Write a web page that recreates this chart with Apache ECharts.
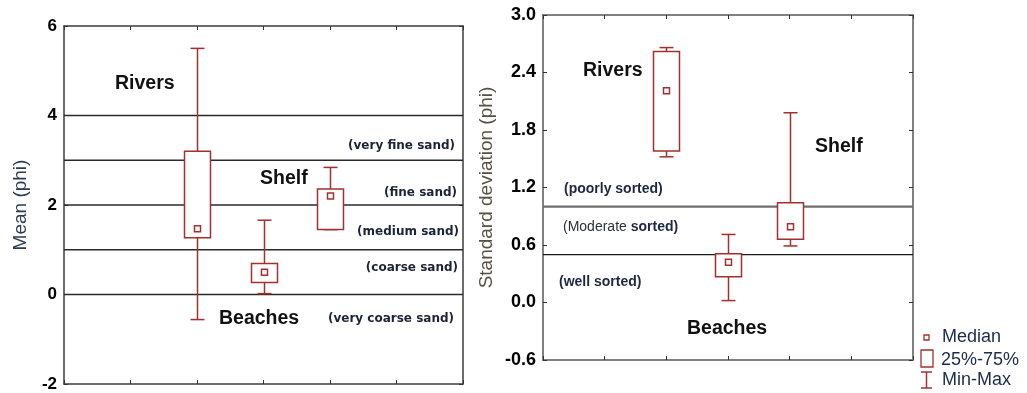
<!DOCTYPE html>
<html>
<head>
<meta charset="utf-8">
<script src="https://cdn.jsdelivr.net/npm/echarts@6/dist/echarts.min.js"></script>
<style>
  html, body { margin: 0; padding: 0; background: #fff; }
  #chart { width: 1027px; height: 393px; }
</style>
</head>
<body>
<div id="chart"></div>
<script>
// Sediment groups, left to right
const groups = ['Rivers', 'Beaches', 'Shelf'];

// Mean grain size (phi): min, 25%, median, 75%, max
const meanMin    = [-0.56, 0.02, 1.45];
const meanQ1     = [1.27, 0.27, 1.45];
const meanMedian = [1.47, 0.50, 2.20];
const meanQ3     = [3.20, 0.69, 2.36];
const meanMax    = [5.50, 1.66, 2.84];

// Sorting, standard deviation (phi): min, 25%, median, 75%, max
const sdMin    = [1.52, 0.02, 0.59];
const sdQ1     = [1.58, 0.27, 0.66];
const sdMedian = [2.21, 0.42, 0.79];
const sdQ3     = [2.62, 0.51, 1.04];
const sdMax    = [2.66, 0.71, 1.98];

// Class boundaries drawn as horizontal rules
const meanClassBounds = [0, 1, 2, 3, 4];
const sdClassBounds = [0.5, 1.0];

// Tick values on the vertical axes
const meanTicks = [-2, 0, 2, 4, 6];
const sdTicks = [-0.6, 0.0, 0.6, 1.2, 1.8, 2.4, 3.0];

const BOX_COLOR = '#a2302e';
const FIRST_SLOT = 2; // groups sit on ticks 2, 3, 4 of a 0..6 axis

function boxData(mins, q1, med, q3, maxs) {
  return groups.map((g, i) => [i + FIRST_SLOT, mins[i], q1[i], med[i], q3[i], maxs[i]]);
}

function renderBox(params, api) {
  const x = api.value(0);
  const pMin = api.coord([x, api.value(1)]);
  const pQ1 = api.coord([x, api.value(2)]);
  const pMed = api.coord([x, api.value(3)]);
  const pQ3 = api.coord([x, api.value(4)]);
  const pMax = api.coord([x, api.value(5)]);
  const halfBox = 13, halfCap = 7, halfMed = 3;
  const line = { stroke: BOX_COLOR, lineWidth: 1.5 };
  const cx = Math.round(pMed[0]) + 0.5;
  return {
    type: 'group',
    children: [
      { type: 'line', shape: { x1: cx, y1: pQ3[1], x2: cx, y2: pMax[1] }, style: line },
      { type: 'line', shape: { x1: cx, y1: pQ1[1], x2: cx, y2: pMin[1] }, style: line },
      { type: 'line', shape: { x1: cx - halfCap, y1: pMax[1], x2: cx + halfCap, y2: pMax[1] }, style: line },
      { type: 'line', shape: { x1: cx - halfCap, y1: pMin[1], x2: cx + halfCap, y2: pMin[1] }, style: line },
      { type: 'rect', shape: { x: cx - halfBox, y: pQ3[1], width: halfBox * 2, height: pQ1[1] - pQ3[1] },
        style: { fill: '#fff', stroke: BOX_COLOR, lineWidth: 1.5 } },
      { type: 'rect', shape: { x: cx - halfMed, y: pMed[1] - halfMed, width: halfMed * 2, height: halfMed * 2 },
        style: { fill: '#fff', stroke: BOX_COLOR, lineWidth: 1.5 } }
    ]
  };
}

function renderRule(color, width) {
  return function (params, api) {
    const a = api.coord([0, api.value(0)]);
    const b = api.coord([6, api.value(0)]);
    return { type: 'line', shape: { x1: a[0], y1: a[1], x2: b[0], y2: b[1] },
             style: { stroke: color, lineWidth: width } };
  };
}

function xAxisPair(gridIndex, color, width) {
  const base = {
    gridIndex, type: 'value', min: 0, max: 6, interval: 1,
    axisLine: { show: true, onZero: false, lineStyle: { color, width } },
    axisTick: { show: true, inside: true, length: 4, lineStyle: { color: '#333', width: 1 } },
    axisLabel: { show: false }, splitLine: { show: false }
  };
  return [Object.assign({ position: 'bottom' }, base), Object.assign({ position: 'top' }, base)];
}

const LABEL_FONT = 'Liberation Sans, Arial, sans-serif';

const option = {
  animation: false,
  grid: [
    { left: 64, top: 26, width: 399, height: 358 },
    { left: 543, top: 15, width: 370, height: 345 }
  ],
  xAxis: [].concat(xAxisPair(0, '#3c3c3c', 1.5), xAxisPair(1, '#808080', 2)),
  yAxis: [
    {
      gridIndex: 0, type: 'value', min: meanTicks[0], max: meanTicks[meanTicks.length - 1], interval: 2,
      axisLine: { show: true, onZero: false, lineStyle: { color: '#3c3c3c', width: 1.5 } },
      axisTick: { show: true, inside: true, length: 4, lineStyle: { color: '#333' } },
      axisLabel: { color: '#000', fontWeight: 'bold', fontSize: 17, fontFamily: LABEL_FONT, margin: 7 },
      splitLine: { show: false },
      name: 'Mean (phi)', nameLocation: 'middle', nameGap: 34,
      nameTextStyle: { color: '#2d3a55', fontSize: 19, fontFamily: LABEL_FONT }
    },
    {
      gridIndex: 0, type: 'value', position: 'right', min: -2, max: 6, interval: 2,
      axisLine: { show: true, onZero: false, lineStyle: { color: '#3c3c3c', width: 1.5 } },
      axisTick: { show: true, inside: true, length: 4, lineStyle: { color: '#333' } },
      axisLabel: { show: false }, splitLine: { show: false }
    },
    {
      gridIndex: 1, type: 'value', min: sdTicks[0], max: sdTicks[sdTicks.length - 1], interval: 0.6,
      axisLine: { show: true, onZero: false, lineStyle: { color: '#808080', width: 2 } },
      axisTick: { show: true, inside: true, length: 4, lineStyle: { color: '#333' } },
      axisLabel: { color: '#000', fontWeight: 'bold', fontSize: 18, fontFamily: LABEL_FONT, margin: 7,
                   formatter: v => v.toFixed(1) },
      splitLine: { show: false },
      name: 'Standard deviation (phi)', nameLocation: 'middle', nameGap: 47,
      nameTextStyle: { color: '#555040', fontSize: 19, fontFamily: LABEL_FONT }
    },
    {
      gridIndex: 1, type: 'value', position: 'right', min: -0.6, max: 3.0, interval: 0.6,
      axisLine: { show: true, onZero: false, lineStyle: { color: '#808080', width: 2 } },
      axisTick: { show: true, inside: true, length: 4, lineStyle: { color: '#333' } },
      axisLabel: { show: false }, splitLine: { show: false }
    }
  ],
  series: [
    {
      type: 'custom', xAxisIndex: 0, yAxisIndex: 0, z: 1,
      renderItem: renderRule('#2a2a2a', 1.3),
      data: meanClassBounds.map(v => [v])
    },
    {
      type: 'custom', xAxisIndex: 2, yAxisIndex: 2, z: 1,
      renderItem: function (params, api) {
        const v = api.value(0);
        return renderRule(v >= 1 ? '#6e6e6e' : '#1a1a1a', v >= 1 ? 2.2 : 1.3)(params, api);
      },
      data: sdClassBounds.map(v => [v])
    },
    {
      type: 'custom', xAxisIndex: 0, yAxisIndex: 0, z: 3,
      renderItem: renderBox,
      encode: { x: 0, y: [1, 2, 3, 4, 5] },
      data: boxData(meanMin, meanQ1, meanMedian, meanQ3, meanMax)
    },
    {
      type: 'custom', xAxisIndex: 2, yAxisIndex: 2, z: 3,
      renderItem: renderBox,
      encode: { x: 0, y: [1, 2, 3, 4, 5] },
      data: boxData(sdMin, sdQ1, sdMedian, sdQ3, sdMax)
    }
  ],
  graphic: []
};

// Group names and size / sorting classes
function bigText(text, x, y) {
  return { type: 'text', x, y, z: 10,
    style: { text, fontSize: 19.5, fontWeight: 'bold', fontFamily: LABEL_FONT, fill: '#111',
             textVerticalAlign: 'middle' } };
}
function classText(text, x, y, align) {
  return { type: 'text', x, y, z: 10,
    style: { text, fontSize: 12, fontWeight: 'bold', fontFamily: 'DejaVu Sans, Verdana, sans-serif',
             fill: '#1b2336', textAlign: align || 'right', textVerticalAlign: 'middle' } };
}
function sortText(text, x, y) {
  return { type: 'text', x, y, z: 10,
    style: { text, fontSize: 14, fontWeight: 'bold', fontFamily: LABEL_FONT,
             fill: '#1e2740', textVerticalAlign: 'middle' } };
}

option.graphic.push(
  bigText('Rivers', 115, 84),
  bigText('Shelf', 260, 179),
  bigText('Beaches', 219, 319),
  classText('(very fine sand)', 455, 146),
  classText('(fine sand)', 457, 193),
  classText('(medium sand)', 459, 232),
  classText('(coarse sand)', 458, 268),
  classText('(very coarse sand)', 454, 319),

  bigText('Rivers', 583, 71),
  bigText('Shelf', 815, 147),
  bigText('Beaches', 687, 329),
  sortText('(poorly sorted)', 564, 189),
  {
    type: 'text', x: 563, y: 227, z: 10,
    style: {
      text: '{r|(Moderate }{b|sorted)}',
      textVerticalAlign: 'middle',
      rich: {
        r: { fontSize: 14, fontFamily: LABEL_FONT, fill: '#2a2f3c' },
        b: { fontSize: 14, fontWeight: 'bold', fontFamily: LABEL_FONT, fill: '#1e2740' }
      }
    }
  },
  sortText('(well sorted)', 559, 282)
);

// Key for the box-and-whisker symbols
const keyFont = { fontSize: 18, fontFamily: LABEL_FONT, fill: '#1c2b4a', textVerticalAlign: 'middle' };
option.graphic.push(
  { type: 'rect', shape: { x: 924, y: 335, width: 5, height: 5 }, z: 10,
    style: { fill: '#fff', stroke: BOX_COLOR, lineWidth: 1.3 } },
  { type: 'text', x: 942, y: 337, z: 10, style: Object.assign({ text: 'Median' }, keyFont) },
  { type: 'rect', shape: { x: 921, y: 350, width: 12, height: 17 }, z: 10,
    style: { fill: '#fff', stroke: BOX_COLOR, lineWidth: 1.3 } },
  { type: 'text', x: 941, y: 360, z: 10, style: Object.assign({ text: '25%-75%' }, keyFont) },
  { type: 'line', z: 10, shape: { x1: 921, y1: 372, x2: 932, y2: 372 }, style: { stroke: BOX_COLOR, lineWidth: 1.5 } },
  { type: 'line', z: 10, shape: { x1: 926.5, y1: 372, x2: 926.5, y2: 388 }, style: { stroke: BOX_COLOR, lineWidth: 1.5 } },
  { type: 'line', z: 10, shape: { x1: 921, y1: 388, x2: 932, y2: 388 }, style: { stroke: BOX_COLOR, lineWidth: 1.5 } },
  { type: 'text', x: 942, y: 380, z: 10, style: Object.assign({ text: 'Min-Max' }, keyFont) }
);

const chart = echarts.init(document.getElementById('chart'), null, { renderer: 'canvas' });
chart.setOption(option);
</script>
</body>
</html>
